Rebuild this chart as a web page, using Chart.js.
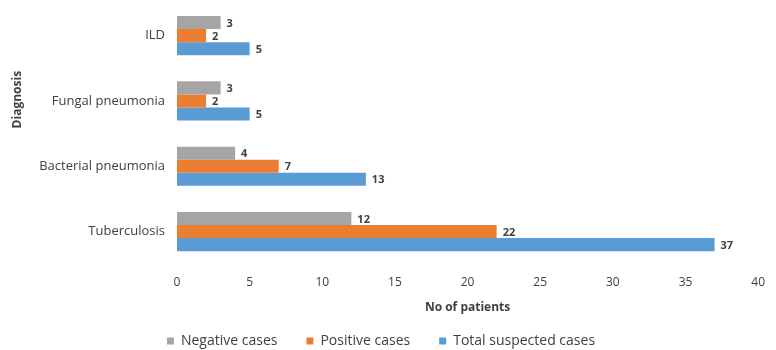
<!DOCTYPE html>
<html>
<head>
<meta charset="utf-8">
<script src="https://cdn.jsdelivr.net/npm/chart.js@4"></script>
<style>
  html, body { margin: 0; padding: 0; background: #fff; }
  #wrap { width: 776px; height: 350px; }
</style>
</head>
<body>
<div id="wrap"><canvas id="diag_chart"></canvas></div>
<script>
var diagnoses = ['ILD', 'Fungal pneumonia', 'Bacterial pneumonia', 'Tuberculosis'];
var negative_cases = [3, 3, 4, 12];
var positive_cases = [2, 2, 7, 22];
var total_suspected = [5, 5, 13, 37];

var text_color = '#404040';
var font_family = 'Open Sans';

// value labels at the end of each bar + the y axis title
const barLabels = {
  id: 'barLabels',
  afterDatasetsDraw(chart) {
    const ctx = chart.ctx;
    ctx.save();
    ctx.font = 'bold 11px ' + font_family;
    ctx.fillStyle = text_color;
    ctx.textBaseline = 'middle';
    chart.data.datasets.forEach((ds, i) => {
      chart.getDatasetMeta(i).data.forEach((bar, j) => {
        ctx.fillText(String(ds.data[j]), bar.x + 6, bar.y + 1);
      });
    });
    // y axis title, sits a bit above the middle like the original
    const area = chart.chartArea;
    ctx.translate(18, area.top + (area.bottom - area.top) * 0.37);
    ctx.rotate(-Math.PI / 2);
    ctx.textAlign = 'center';
    ctx.font = 'bold 12px ' + font_family;
    ctx.fillText('Diagnosis', 0, 0);
    ctx.restore();
  }
};

const data = {
  labels: diagnoses,
  datasets: [{
    label: 'Negative cases',
    data: negative_cases,
    backgroundColor: '#A5A5A5'
  },
  {
    label: 'Positive cases',
    data: positive_cases,
    backgroundColor: '#ED7D31'
  },
  {
    label: 'Total suspected cases',
    data: total_suspected,
    backgroundColor: '#5B9BD5'
  }]
};

const config = {
  type: 'bar',
  data: data,
  options: {
    indexAxis: 'y',
    responsive: true,
    maintainAspectRatio: false,
    animation: false,
    datasets: { bar: { barPercentage: 1, categoryPercentage: 0.6 } },
    layout: { autoPadding: false, padding: { top: 3, right: 14, left: 0, bottom: -8 } },
    scales: {
      x: {
        min: 0,
        max: 40,
        ticks: { stepSize: 5, color: text_color, font: { family: font_family, size: 12 }, padding: 11 },
        grid: { display: false, drawTicks: false },
        border: { display: false },
        title: {
          display: true,
          text: 'No of patients',
          color: text_color,
          font: { family: font_family, size: 12, weight: 'bold' },
          padding: { top: 0, bottom: 18 }
        }
      },
      y: {
        afterFit: (scale) => {
          scale.width = 177;
          scale.paddingTop = 0;
          scale.paddingBottom = 0;
        },
        ticks: { color: text_color, font: { family: font_family, size: 13 }, padding: 12 },
        grid: { display: false, drawTicks: false },
        border: { display: false }
      }
    },
    plugins: {
      legend: {
        display: true,
        position: 'bottom',
        labels: {
          boxWidth: 7,
          boxHeight: 7,
          color: text_color,
          font: { family: font_family, size: 14 },
          padding: 1,
          generateLabels: (chart) => {
            const items = Chart.defaults.plugins.legend.labels.generateLabels(chart);
            items.forEach((it, k) => {
              if (k < items.length - 1) it.text = it.text + '\u2003\u2003';
            });
            return items;
          }
        }
      },
      tooltip: { enabled: false }
    }
  },
  plugins: [barLabels]
};

const myChart = new Chart(document.getElementById('diag_chart'), config);
</script>
</body>
</html>
